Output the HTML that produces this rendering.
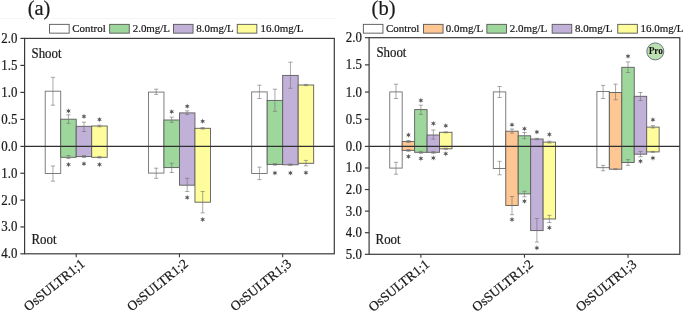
<!DOCTYPE html><html><head><meta charset="utf-8"><style>html,body{margin:0;padding:0;background:#fff;}svg{display:block;will-change:transform}.t{font-family:"Liberation Serif", serif;font-size:13px;fill:#1a1a1a;stroke:#1a1a1a;stroke-width:0.22px} .l{font-family:"Liberation Serif", serif;font-size:11px;fill:#1a1a1a} .s{font-family:"Liberation Sans",sans-serif;font-size:11px;fill:#333} .h{font-family:"Liberation Serif", serif;font-size:19px;fill:#1a1a1a;stroke:#1a1a1a;stroke-width:0.2px}</style></head><body><svg width="685" height="312" viewBox="0 0 685 312">
<rect width="685" height="312" fill="#fff"/>
<rect x="0" y="18" width="336" height="1" fill="#f5f5f5"/>
<rect x="45.21" y="91.2" width="15.5" height="82.3" fill="#ffffff" stroke="#707070" stroke-width="0.9"/>
<rect x="60.71" y="119.2" width="15.5" height="38.10" fill="#9ed79b" stroke="#5c5c5c" stroke-width="0.9"/>
<rect x="76.21" y="126.3" width="15.5" height="30.29" fill="#c1b1d8" stroke="#5c5c5c" stroke-width="0.9"/>
<rect x="91.71" y="126.0" width="15.5" height="31.30" fill="#fefc9b" stroke="#5c5c5c" stroke-width="0.9"/>
<rect x="148.45" y="92.1" width="15.5" height="81.0" fill="#ffffff" stroke="#707070" stroke-width="0.9"/>
<rect x="163.95" y="120.0" width="15.5" height="47.59" fill="#9ed79b" stroke="#5c5c5c" stroke-width="0.9"/>
<rect x="179.45" y="112.9" width="15.5" height="72.29" fill="#c1b1d8" stroke="#5c5c5c" stroke-width="0.9"/>
<rect x="194.95" y="128.3" width="15.5" height="73.89" fill="#fefc9b" stroke="#5c5c5c" stroke-width="0.9"/>
<rect x="251.68" y="91.9" width="15.5" height="81.6" fill="#ffffff" stroke="#707070" stroke-width="0.9"/>
<rect x="267.18" y="100.4" width="15.5" height="64.0" fill="#9ed79b" stroke="#5c5c5c" stroke-width="0.9"/>
<rect x="282.68" y="75.4" width="15.5" height="89.4" fill="#c1b1d8" stroke="#5c5c5c" stroke-width="0.9"/>
<rect x="298.18" y="85.0" width="15.5" height="78.30" fill="#fefc9b" stroke="#5c5c5c" stroke-width="0.9"/>
<line x1="24.6" y1="146.4" x2="334.3" y2="146.4" stroke="#303030" stroke-width="1.3"/>
<path d="M52.96 77.3V105.2M50.86 77.3h4.2M50.86 105.2h4.2" stroke="#707070" stroke-width="0.6" fill="none"/>
<path d="M52.96 166V181.2M50.86 166h4.2M50.86 181.2h4.2" stroke="#707070" stroke-width="0.6" fill="none"/>
<path d="M68.46 114.8V123.3M66.36 114.8h4.2M66.36 123.3h4.2" stroke="#707070" stroke-width="0.6" fill="none"/>
<path d="M68.46 155.5V158.5M66.36 155.5h4.2M66.36 158.5h4.2" stroke="#707070" stroke-width="0.6" fill="none"/>
<polygon points="68.47,108.20 69.04,110.00 70.89,109.60 69.62,111.00 70.89,112.40 69.04,112.00 68.47,113.80 67.89,112.00 66.04,112.40 67.32,111.00 66.04,109.60 67.89,110.00" fill="#585858"/>
<polygon points="68.47,161.80 69.04,163.60 70.89,163.20 69.62,164.60 70.89,166.00 69.04,165.60 68.47,167.40 67.89,165.60 66.04,166.00 67.32,164.60 66.04,163.20 67.89,163.60" fill="#585858"/>
<path d="M83.96 122.2V131.5M81.86 122.2h4.2M81.86 131.5h4.2" stroke="#707070" stroke-width="0.6" fill="none"/>
<path d="M83.96 155.5V157.5M81.86 155.5h4.2M81.86 157.5h4.2" stroke="#707070" stroke-width="0.6" fill="none"/>
<polygon points="83.97,113.60 84.54,115.40 86.39,115.00 85.12,116.40 86.39,117.80 84.54,117.40 83.97,119.20 83.39,117.40 81.54,117.80 82.82,116.40 81.54,115.00 83.39,115.40" fill="#585858"/>
<polygon points="83.97,161.00 84.54,162.80 86.39,162.40 85.12,163.80 86.39,165.20 84.54,164.80 83.97,166.60 83.39,164.80 81.54,165.20 82.82,163.80 81.54,162.40 83.39,162.80" fill="#585858"/>
<path d="M99.46 125.2V126.8M97.36 125.2h4.2M97.36 126.8h4.2" stroke="#707070" stroke-width="0.6" fill="none"/>
<path d="M99.46 156.5V158M97.36 156.5h4.2M97.36 158h4.2" stroke="#707070" stroke-width="0.6" fill="none"/>
<polygon points="99.47,116.80 100.04,118.60 101.89,118.20 100.62,119.60 101.89,121.00 100.04,120.60 99.47,122.40 98.89,120.60 97.04,121.00 98.32,119.60 97.04,118.20 98.89,118.60" fill="#585858"/>
<polygon points="99.47,161.80 100.04,163.60 101.89,163.20 100.62,164.60 101.89,166.00 100.04,165.60 99.47,167.40 98.89,165.60 97.04,166.00 98.32,164.60 97.04,163.20 98.89,163.60" fill="#585858"/>
<path d="M156.2 89.2V94.4M154.1 89.2h4.2M154.1 94.4h4.2" stroke="#707070" stroke-width="0.6" fill="none"/>
<path d="M156.2 168.2V178.3M154.1 168.2h4.2M154.1 178.3h4.2" stroke="#707070" stroke-width="0.6" fill="none"/>
<path d="M171.7 117.1V122.3M169.6 117.1h4.2M169.6 122.3h4.2" stroke="#707070" stroke-width="0.6" fill="none"/>
<path d="M171.7 163.3V172.5M169.6 163.3h4.2M169.6 172.5h4.2" stroke="#707070" stroke-width="0.6" fill="none"/>
<polygon points="171.70,108.90 172.27,110.70 174.12,110.30 172.85,111.70 174.12,113.10 172.27,112.70 171.70,114.50 171.12,112.70 169.28,113.10 170.55,111.70 169.28,110.30 171.12,110.70" fill="#585858"/>
<path d="M187.2 110.8V114.6M185.1 110.8h4.2M185.1 114.6h4.2" stroke="#707070" stroke-width="0.6" fill="none"/>
<path d="M187.2 178.3V191.5M185.1 178.3h4.2M185.1 191.5h4.2" stroke="#707070" stroke-width="0.6" fill="none"/>
<polygon points="187.20,103.50 187.77,105.30 189.62,104.90 188.35,106.30 189.62,107.70 187.77,107.30 187.20,109.10 186.62,107.30 184.78,107.70 186.05,106.30 184.78,104.90 186.62,105.30" fill="#585858"/>
<polygon points="187.20,194.80 187.77,196.60 189.62,196.20 188.35,197.60 189.62,199.00 187.77,198.60 187.20,200.40 186.62,198.60 184.78,199.00 186.05,197.60 184.78,196.20 186.62,196.60" fill="#585858"/>
<path d="M202.7 127.5V129.1M200.6 127.5h4.2M200.6 129.1h4.2" stroke="#707070" stroke-width="0.6" fill="none"/>
<path d="M202.7 191.5V212.9M200.6 191.5h4.2M200.6 212.9h4.2" stroke="#707070" stroke-width="0.6" fill="none"/>
<polygon points="202.70,118.50 203.27,120.30 205.12,119.90 203.85,121.30 205.12,122.70 203.27,122.30 202.70,124.10 202.12,122.30 200.28,122.70 201.55,121.30 200.28,119.90 202.12,120.30" fill="#585858"/>
<polygon points="202.70,216.70 203.27,218.50 205.12,218.10 203.85,219.50 205.12,220.90 203.27,220.50 202.70,222.30 202.12,220.50 200.28,220.90 201.55,219.50 200.28,218.10 202.12,218.50" fill="#585858"/>
<path d="M259.43 85.2V98.5M257.33 85.2h4.2M257.33 98.5h4.2" stroke="#707070" stroke-width="0.6" fill="none"/>
<path d="M259.43 167.1V179.6M257.33 167.1h4.2M257.33 179.6h4.2" stroke="#707070" stroke-width="0.6" fill="none"/>
<path d="M274.93 89.2V111.3M272.83 89.2h4.2M272.83 111.3h4.2" stroke="#707070" stroke-width="0.6" fill="none"/>
<path d="M274.93 163.5V165.2M272.83 163.5h4.2M272.83 165.2h4.2" stroke="#707070" stroke-width="0.6" fill="none"/>
<polygon points="274.93,170.20 275.51,172.00 277.36,171.60 276.08,173.00 277.36,174.40 275.51,174.00 274.93,175.80 274.36,174.00 272.51,174.40 273.78,173.00 272.51,171.60 274.36,172.00" fill="#585858"/>
<path d="M290.43 62.2V88.3M288.33 62.2h4.2M288.33 88.3h4.2" stroke="#707070" stroke-width="0.6" fill="none"/>
<path d="M290.43 164V165.5M288.33 164h4.2M288.33 165.5h4.2" stroke="#707070" stroke-width="0.6" fill="none"/>
<polygon points="290.43,170.20 291.01,172.00 292.86,171.60 291.58,173.00 292.86,174.40 291.01,174.00 290.43,175.80 289.86,174.00 288.01,174.40 289.28,173.00 288.01,171.60 289.86,172.00" fill="#585858"/>
<path d="M305.93 84.4V85.6M303.83 84.4h4.2M303.83 85.6h4.2" stroke="#707070" stroke-width="0.6" fill="none"/>
<path d="M305.93 160.4V165.8M303.83 160.4h4.2M303.83 165.8h4.2" stroke="#707070" stroke-width="0.6" fill="none"/>
<polygon points="305.93,169.90 306.51,171.70 308.36,171.30 307.08,172.70 308.36,174.10 306.51,173.70 305.93,175.50 305.36,173.70 303.51,174.10 304.78,172.70 303.51,171.30 305.36,171.70" fill="#585858"/>
<rect x="24.6" y="38.4" width="309.7" height="215.4" fill="none" stroke="#3a3a3a" stroke-width="1.2"/>
<line x1="20.40" y1="38.4" x2="24.6" y2="38.4" stroke="#3a3a3a" stroke-width="1.2"/>
<text transform="translate(17.40,42.90) scale(0.92,1)" text-anchor="end" class="t" style="font-size:14px;">2.0</text>
<line x1="20.40" y1="65.4" x2="24.6" y2="65.4" stroke="#3a3a3a" stroke-width="1.2"/>
<text transform="translate(17.40,69.90) scale(0.92,1)" text-anchor="end" class="t" style="font-size:14px;">1.5</text>
<line x1="20.40" y1="92.4" x2="24.6" y2="92.4" stroke="#3a3a3a" stroke-width="1.2"/>
<text transform="translate(17.40,96.90) scale(0.92,1)" text-anchor="end" class="t" style="font-size:14px;">1.0</text>
<line x1="20.40" y1="119.4" x2="24.6" y2="119.4" stroke="#3a3a3a" stroke-width="1.2"/>
<text transform="translate(17.40,123.90) scale(0.92,1)" text-anchor="end" class="t" style="font-size:14px;">0.5</text>
<line x1="20.40" y1="146.4" x2="24.6" y2="146.4" stroke="#3a3a3a" stroke-width="1.2"/>
<text transform="translate(17.40,150.90) scale(0.92,1)" text-anchor="end" class="t" style="font-size:14px;">0.0</text>
<line x1="20.40" y1="173.25" x2="24.6" y2="173.25" stroke="#3a3a3a" stroke-width="1.2"/>
<text transform="translate(17.40,177.75) scale(0.92,1)" text-anchor="end" class="t" style="font-size:14px;">1.0</text>
<line x1="20.40" y1="200.10" x2="24.6" y2="200.10" stroke="#3a3a3a" stroke-width="1.2"/>
<text transform="translate(17.40,204.60) scale(0.92,1)" text-anchor="end" class="t" style="font-size:14px;">2.0</text>
<line x1="20.40" y1="226.95" x2="24.6" y2="226.95" stroke="#3a3a3a" stroke-width="1.2"/>
<text transform="translate(17.40,231.45) scale(0.92,1)" text-anchor="end" class="t" style="font-size:14px;">3.0</text>
<line x1="20.40" y1="253.8" x2="24.6" y2="253.8" stroke="#3a3a3a" stroke-width="1.2"/>
<text transform="translate(17.40,258.30) scale(0.92,1)" text-anchor="end" class="t" style="font-size:14px;">4.0</text>
<line x1="76.21" y1="253.8" x2="76.21" y2="257.3" stroke="#3a3a3a" stroke-width="1.1"/>
<text class="t" style="font-size:13.5px" text-anchor="end" transform="translate(85.71,265.2) rotate(-39)">OsSULTR1;1</text>
<line x1="179.45" y1="253.8" x2="179.45" y2="257.3" stroke="#3a3a3a" stroke-width="1.1"/>
<text class="t" style="font-size:13.5px" text-anchor="end" transform="translate(188.95,265.2) rotate(-39)">OsSULTR1;2</text>
<line x1="282.68" y1="253.8" x2="282.68" y2="257.3" stroke="#3a3a3a" stroke-width="1.1"/>
<text class="t" style="font-size:13.5px" text-anchor="end" transform="translate(292.18,265.2) rotate(-39)">OsSULTR1;3</text>
<rect x="389.75" y="91.9" width="12.44" height="76.19" fill="#ffffff" stroke="#707070" stroke-width="0.9"/>
<rect x="402.20" y="141.5" width="12.44" height="8.90" fill="#fdc693" stroke="#5c5c5c" stroke-width="0.9"/>
<rect x="414.65" y="109.6" width="12.44" height="42.70" fill="#9ed79b" stroke="#5c5c5c" stroke-width="0.9"/>
<rect x="427.10" y="135.0" width="12.44" height="17.30" fill="#c1b1d8" stroke="#5c5c5c" stroke-width="0.9"/>
<rect x="439.55" y="132.3" width="12.44" height="16.5" fill="#fefc9b" stroke="#5c5c5c" stroke-width="0.9"/>
<rect x="493.32" y="91.9" width="12.44" height="76.6" fill="#ffffff" stroke="#707070" stroke-width="0.9"/>
<rect x="505.77" y="131.2" width="12.44" height="74.30" fill="#fdc693" stroke="#5c5c5c" stroke-width="0.9"/>
<rect x="518.22" y="135.8" width="12.45" height="58.09" fill="#9ed79b" stroke="#5c5c5c" stroke-width="0.9"/>
<rect x="530.67" y="139.0" width="12.45" height="91.6" fill="#c1b1d8" stroke="#5c5c5c" stroke-width="0.9"/>
<rect x="543.12" y="142.1" width="12.45" height="76.9" fill="#fefc9b" stroke="#5c5c5c" stroke-width="0.9"/>
<rect x="596.89" y="91.5" width="12.45" height="76.19" fill="#ffffff" stroke="#707070" stroke-width="0.9"/>
<rect x="609.34" y="92.5" width="12.45" height="76.69" fill="#fdc693" stroke="#5c5c5c" stroke-width="0.9"/>
<rect x="621.79" y="67.3" width="12.45" height="95.2" fill="#9ed79b" stroke="#5c5c5c" stroke-width="0.9"/>
<rect x="634.24" y="96.3" width="12.45" height="57.89" fill="#c1b1d8" stroke="#5c5c5c" stroke-width="0.9"/>
<rect x="646.69" y="127.1" width="12.45" height="24.80" fill="#fefc9b" stroke="#5c5c5c" stroke-width="0.9"/>
<line x1="369.1" y1="146.4" x2="679.8" y2="146.4" stroke="#303030" stroke-width="1.3"/>
<path d="M395.98 84.2V98.5M393.88 84.2h4.2M393.88 98.5h4.2" stroke="#707070" stroke-width="0.6" fill="none"/>
<path d="M395.98 162.3V174.2M393.88 162.3h4.2M393.88 174.2h4.2" stroke="#707070" stroke-width="0.6" fill="none"/>
<path d="M408.43 140.5V142.5M406.33 140.5h4.2M406.33 142.5h4.2" stroke="#707070" stroke-width="0.6" fill="none"/>
<path d="M408.43 149.5V151.3M406.33 149.5h4.2M406.33 151.3h4.2" stroke="#707070" stroke-width="0.6" fill="none"/>
<polygon points="408.43,132.20 409.01,134.00 410.86,133.60 409.58,135.00 410.86,136.40 409.01,136.00 408.43,137.80 407.86,136.00 406.01,136.40 407.28,135.00 406.01,133.60 407.86,134.00" fill="#585858"/>
<polygon points="408.43,153.70 409.01,155.50 410.86,155.10 409.58,156.50 410.86,157.90 409.01,157.50 408.43,159.30 407.86,157.50 406.01,157.90 407.28,156.50 406.01,155.10 407.86,155.50" fill="#585858"/>
<path d="M420.88 105.2V114.4M418.78 105.2h4.2M418.78 114.4h4.2" stroke="#707070" stroke-width="0.6" fill="none"/>
<path d="M420.88 151.3V153.3M418.78 151.3h4.2M418.78 153.3h4.2" stroke="#707070" stroke-width="0.6" fill="none"/>
<polygon points="420.88,97.60 421.46,99.40 423.31,99.00 422.03,100.40 423.31,101.80 421.46,101.40 420.88,103.20 420.31,101.40 418.46,101.80 419.73,100.40 418.46,99.00 420.31,99.40" fill="#585858"/>
<polygon points="420.88,155.70 421.46,157.50 423.31,157.10 422.03,158.50 423.31,159.90 421.46,159.50 420.88,161.30 420.31,159.50 418.46,159.90 419.73,158.50 418.46,157.10 420.31,157.50" fill="#585858"/>
<path d="M433.33 130V139.2M431.23 130h4.2M431.23 139.2h4.2" stroke="#707070" stroke-width="0.6" fill="none"/>
<path d="M433.33 151.3V153.3M431.23 151.3h4.2M431.23 153.3h4.2" stroke="#707070" stroke-width="0.6" fill="none"/>
<polygon points="433.33,120.70 433.91,122.50 435.76,122.10 434.48,123.50 435.76,124.90 433.91,124.50 433.33,126.30 432.76,124.50 430.91,124.90 432.18,123.50 430.91,122.10 432.76,122.50" fill="#585858"/>
<polygon points="433.33,155.20 433.91,157.00 435.76,156.60 434.48,158.00 435.76,159.40 433.91,159.00 433.33,160.80 432.76,159.00 430.91,159.40 432.18,158.00 430.91,156.60 432.76,157.00" fill="#585858"/>
<path d="M445.78 131.8V132.8M443.68 131.8h4.2M443.68 132.8h4.2" stroke="#707070" stroke-width="0.6" fill="none"/>
<path d="M445.78 148.2V149.4M443.68 148.2h4.2M443.68 149.4h4.2" stroke="#707070" stroke-width="0.6" fill="none"/>
<polygon points="445.78,123.00 446.36,124.80 448.21,124.40 446.93,125.80 448.21,127.20 446.36,126.80 445.78,128.60 445.21,126.80 443.36,127.20 444.63,125.80 443.36,124.40 445.21,124.80" fill="#585858"/>
<polygon points="445.78,150.90 446.36,152.70 448.21,152.30 446.93,153.70 448.21,155.10 446.36,154.70 445.78,156.50 445.21,154.70 443.36,155.10 444.63,153.70 443.36,152.30 445.21,152.70" fill="#585858"/>
<path d="M499.55 86.5V97.5M497.45 86.5h4.2M497.45 97.5h4.2" stroke="#707070" stroke-width="0.6" fill="none"/>
<path d="M499.55 161.3V174.8M497.45 161.3h4.2M497.45 174.8h4.2" stroke="#707070" stroke-width="0.6" fill="none"/>
<path d="M512.0 129V133.1M509.9 129h4.2M509.9 133.1h4.2" stroke="#707070" stroke-width="0.6" fill="none"/>
<path d="M512.0 196.5V214.7M509.9 196.5h4.2M509.9 214.7h4.2" stroke="#707070" stroke-width="0.6" fill="none"/>
<polygon points="512.00,122.00 512.58,123.80 514.42,123.40 513.15,124.80 514.42,126.20 512.58,125.80 512.00,127.60 511.43,125.80 509.58,126.20 510.85,124.80 509.58,123.40 511.43,123.80" fill="#585858"/>
<polygon points="512.00,216.80 512.58,218.60 514.42,218.20 513.15,219.60 514.42,221.00 512.58,220.60 512.00,222.40 511.43,220.60 509.58,221.00 510.85,219.60 509.58,218.20 511.43,218.60" fill="#585858"/>
<path d="M524.45 132.5V138.7M522.35 132.5h4.2M522.35 138.7h4.2" stroke="#707070" stroke-width="0.6" fill="none"/>
<path d="M524.45 191.3V196.8M522.35 191.3h4.2M522.35 196.8h4.2" stroke="#707070" stroke-width="0.6" fill="none"/>
<polygon points="524.45,125.90 525.03,127.70 526.87,127.30 525.60,128.70 526.87,130.10 525.03,129.70 524.45,131.50 523.88,129.70 522.03,130.10 523.30,128.70 522.03,127.30 523.88,127.70" fill="#585858"/>
<polygon points="524.45,198.40 525.03,200.20 526.87,199.80 525.60,201.20 526.87,202.60 525.03,202.20 524.45,204.00 523.88,202.20 522.03,202.60 523.30,201.20 522.03,199.80 523.88,200.20" fill="#585858"/>
<path d="M536.90 138.3V139.7M534.80 138.3h4.2M534.80 139.7h4.2" stroke="#707070" stroke-width="0.6" fill="none"/>
<path d="M536.90 218.5V242.1M534.80 218.5h4.2M534.80 242.1h4.2" stroke="#707070" stroke-width="0.6" fill="none"/>
<polygon points="536.90,129.20 537.48,131.00 539.32,130.60 538.05,132.00 539.32,133.40 537.48,133.00 536.90,134.80 536.33,133.00 534.48,133.40 535.75,132.00 534.48,130.60 536.33,131.00" fill="#585858"/>
<polygon points="536.90,245.10 537.48,246.90 539.32,246.50 538.05,247.90 539.32,249.30 537.48,248.90 536.90,250.70 536.33,248.90 534.48,249.30 535.75,247.90 534.48,246.50 536.33,246.90" fill="#585858"/>
<path d="M549.35 141.2V143M547.25 141.2h4.2M547.25 143h4.2" stroke="#707070" stroke-width="0.6" fill="none"/>
<path d="M549.35 215.3V222.5M547.25 215.3h4.2M547.25 222.5h4.2" stroke="#707070" stroke-width="0.6" fill="none"/>
<polygon points="549.35,131.60 549.93,133.40 551.77,133.00 550.50,134.40 551.77,135.80 549.93,135.40 549.35,137.20 548.77,135.40 546.93,135.80 548.20,134.40 546.93,133.00 548.77,133.40" fill="#585858"/>
<polygon points="549.35,224.90 549.93,226.70 551.77,226.30 550.50,227.70 551.77,229.10 549.93,228.70 549.35,230.50 548.77,228.70 546.93,229.10 548.20,227.70 546.93,226.30 548.77,226.70" fill="#585858"/>
<path d="M603.11 85.4V98.5M601.01 85.4h4.2M601.01 98.5h4.2" stroke="#707070" stroke-width="0.6" fill="none"/>
<path d="M603.11 165.4V170.8M601.01 165.4h4.2M601.01 170.8h4.2" stroke="#707070" stroke-width="0.6" fill="none"/>
<path d="M615.56 84.2V99.8M613.46 84.2h4.2M613.46 99.8h4.2" stroke="#707070" stroke-width="0.6" fill="none"/>
<path d="M615.56 168.8V169.6M613.46 168.8h4.2M613.46 169.6h4.2" stroke="#707070" stroke-width="0.6" fill="none"/>
<path d="M628.01 61.9V72.5M625.91 61.9h4.2M625.91 72.5h4.2" stroke="#707070" stroke-width="0.6" fill="none"/>
<path d="M628.01 159.6V165.4M625.91 159.6h4.2M625.91 165.4h4.2" stroke="#707070" stroke-width="0.6" fill="none"/>
<polygon points="628.02,53.40 628.59,55.20 630.44,54.80 629.17,56.20 630.44,57.60 628.59,57.20 628.02,59.00 627.44,57.20 625.59,57.60 626.87,56.20 625.59,54.80 627.44,55.20" fill="#585858"/>
<path d="M640.46 92.5V100.6M638.36 92.5h4.2M638.36 100.6h4.2" stroke="#707070" stroke-width="0.6" fill="none"/>
<path d="M640.46 151.5V156.7M638.36 151.5h4.2M638.36 156.7h4.2" stroke="#707070" stroke-width="0.6" fill="none"/>
<polygon points="640.47,158.40 641.04,160.20 642.89,159.80 641.62,161.20 642.89,162.60 641.04,162.20 640.47,164.00 639.89,162.20 638.04,162.60 639.32,161.20 638.04,159.80 639.89,160.20" fill="#585858"/>
<path d="M652.91 125.6V128M650.81 125.6h4.2M650.81 128h4.2" stroke="#707070" stroke-width="0.6" fill="none"/>
<path d="M652.91 151.4V152.4M650.81 151.4h4.2M650.81 152.4h4.2" stroke="#707070" stroke-width="0.6" fill="none"/>
<polygon points="652.92,117.00 653.49,118.80 655.34,118.40 654.07,119.80 655.34,121.20 653.49,120.80 652.92,122.60 652.34,120.80 650.49,121.20 651.77,119.80 650.49,118.40 652.34,118.80" fill="#585858"/>
<polygon points="652.92,155.30 653.49,157.10 655.34,156.70 654.07,158.10 655.34,159.50 653.49,159.10 652.92,160.90 652.34,159.10 650.49,159.50 651.77,158.10 650.49,156.70 652.34,157.10" fill="#585858"/>
<rect x="369.1" y="37.7" width="310.69" height="216.60" fill="none" stroke="#3a3a3a" stroke-width="1.2"/>
<line x1="364.90" y1="37.7" x2="369.1" y2="37.7" stroke="#3a3a3a" stroke-width="1.2"/>
<text transform="translate(361.90,42.20) scale(0.92,1)" text-anchor="end" class="t" style="font-size:14px;">2.0</text>
<line x1="364.90" y1="64.87" x2="369.1" y2="64.87" stroke="#3a3a3a" stroke-width="1.2"/>
<text transform="translate(361.90,69.38) scale(0.92,1)" text-anchor="end" class="t" style="font-size:14px;">1.5</text>
<line x1="364.90" y1="92.05" x2="369.1" y2="92.05" stroke="#3a3a3a" stroke-width="1.2"/>
<text transform="translate(361.90,96.55) scale(0.92,1)" text-anchor="end" class="t" style="font-size:14px;">1.0</text>
<line x1="364.90" y1="119.22" x2="369.1" y2="119.22" stroke="#3a3a3a" stroke-width="1.2"/>
<text transform="translate(361.90,123.73) scale(0.92,1)" text-anchor="end" class="t" style="font-size:14px;">0.5</text>
<line x1="364.90" y1="146.4" x2="369.1" y2="146.4" stroke="#3a3a3a" stroke-width="1.2"/>
<text transform="translate(361.90,150.90) scale(0.92,1)" text-anchor="end" class="t" style="font-size:14px;">0.0</text>
<line x1="364.90" y1="167.98" x2="369.1" y2="167.98" stroke="#3a3a3a" stroke-width="1.2"/>
<text transform="translate(361.90,172.48) scale(0.92,1)" text-anchor="end" class="t" style="font-size:14px;">1.0</text>
<line x1="364.90" y1="189.56" x2="369.1" y2="189.56" stroke="#3a3a3a" stroke-width="1.2"/>
<text transform="translate(361.90,194.06) scale(0.92,1)" text-anchor="end" class="t" style="font-size:14px;">2.0</text>
<line x1="364.90" y1="211.14" x2="369.1" y2="211.14" stroke="#3a3a3a" stroke-width="1.2"/>
<text transform="translate(361.90,215.64) scale(0.92,1)" text-anchor="end" class="t" style="font-size:14px;">3.0</text>
<line x1="364.90" y1="232.72" x2="369.1" y2="232.72" stroke="#3a3a3a" stroke-width="1.2"/>
<text transform="translate(361.90,237.22) scale(0.92,1)" text-anchor="end" class="t" style="font-size:14px;">4.0</text>
<line x1="364.90" y1="254.3" x2="369.1" y2="254.3" stroke="#3a3a3a" stroke-width="1.2"/>
<text transform="translate(361.90,258.80) scale(0.92,1)" text-anchor="end" class="t" style="font-size:14px;">5.0</text>
<line x1="420.88" y1="254.3" x2="420.88" y2="257.8" stroke="#3a3a3a" stroke-width="1.1"/>
<text class="t" style="font-size:13.5px" text-anchor="end" transform="translate(430.38,265.7) rotate(-39)">OsSULTR1;1</text>
<line x1="524.45" y1="254.3" x2="524.45" y2="257.8" stroke="#3a3a3a" stroke-width="1.1"/>
<text class="t" style="font-size:13.5px" text-anchor="end" transform="translate(533.95,265.7) rotate(-39)">OsSULTR1;2</text>
<line x1="628.01" y1="254.3" x2="628.01" y2="257.8" stroke="#3a3a3a" stroke-width="1.1"/>
<text class="t" style="font-size:13.5px" text-anchor="end" transform="translate(637.51,265.7) rotate(-39)">OsSULTR1;3</text>
<text class="h" x="27.7" y="15.1" style="font-size:20.5px">(a)</text>
<text class="h" x="371.6" y="15.1" style="font-size:20.5px">(b)</text>
<text transform="translate(31.50,57.50) scale(0.92,1)" text-anchor="start" class="t" style="font-size:14px;">Shoot</text>
<text transform="translate(31.50,244.00) scale(0.92,1)" text-anchor="start" class="t" style="font-size:14px;">Root</text>
<text transform="translate(376.40,56.90) scale(0.92,1)" text-anchor="start" class="t" style="font-size:14px;">Shoot</text>
<text transform="translate(375.60,243.60) scale(0.92,1)" text-anchor="start" class="t" style="font-size:14px;">Root</text>
<rect x="49.55" y="24.35" width="19.6" height="8.8" fill="#ffffff" stroke="#555" stroke-width="0.9"/>
<text transform="translate(72.30,31.50) scale(0.96,1)" text-anchor="start" class="t" style="font-size:11.4px;">Control</text>
<rect x="109.65" y="24.35" width="19.6" height="8.8" fill="#9ed79b" stroke="#555" stroke-width="0.9"/>
<text transform="translate(132.70,31.50) scale(0.96,1)" text-anchor="start" class="t" style="font-size:11.4px;">2.0mg/L</text>
<rect x="173.45" y="24.35" width="19.6" height="8.8" fill="#c1b1d8" stroke="#555" stroke-width="0.9"/>
<text transform="translate(196.30,31.50) scale(0.96,1)" text-anchor="start" class="t" style="font-size:11.4px;">8.0mg/L</text>
<rect x="237.25" y="24.35" width="19.6" height="8.8" fill="#fefc9b" stroke="#555" stroke-width="0.9"/>
<text transform="translate(260.60,31.50) scale(0.96,1)" text-anchor="start" class="t" style="font-size:11.4px;">16.0mg/L</text>
<rect x="363.35" y="24.35" width="19.6" height="8.8" fill="#ffffff" stroke="#555" stroke-width="0.9"/>
<text transform="translate(386.00,31.50) scale(0.96,1)" text-anchor="start" class="t" style="font-size:11.4px;">Control</text>
<rect x="423.45" y="24.35" width="19.6" height="8.8" fill="#fdc693" stroke="#555" stroke-width="0.9"/>
<text transform="translate(445.80,31.50) scale(0.96,1)" text-anchor="start" class="t" style="font-size:11.4px;">0.0mg/L</text>
<rect x="486.85" y="24.35" width="19.6" height="8.8" fill="#9ed79b" stroke="#555" stroke-width="0.9"/>
<text transform="translate(509.80,31.50) scale(0.96,1)" text-anchor="start" class="t" style="font-size:11.4px;">2.0mg/L</text>
<rect x="552.15" y="24.35" width="19.6" height="8.8" fill="#c1b1d8" stroke="#555" stroke-width="0.9"/>
<text transform="translate(575.00,31.50) scale(0.96,1)" text-anchor="start" class="t" style="font-size:11.4px;">8.0mg/L</text>
<rect x="617.75" y="24.35" width="19.6" height="8.8" fill="#fefc9b" stroke="#555" stroke-width="0.9"/>
<text transform="translate(640.60,31.50) scale(0.96,1)" text-anchor="start" class="t" style="font-size:11.4px;">16.0mg/L</text>
<circle cx="655.3" cy="51.4" r="8.5" fill="#bde0b0" stroke="#5a6a7a" stroke-width="0.9"/>
<text x="655.85" y="54.2" text-anchor="middle" style="font-family:'Liberation Serif',serif;font-weight:bold;font-size:9.4px;fill:#111">Pro</text>
</svg></body></html>
